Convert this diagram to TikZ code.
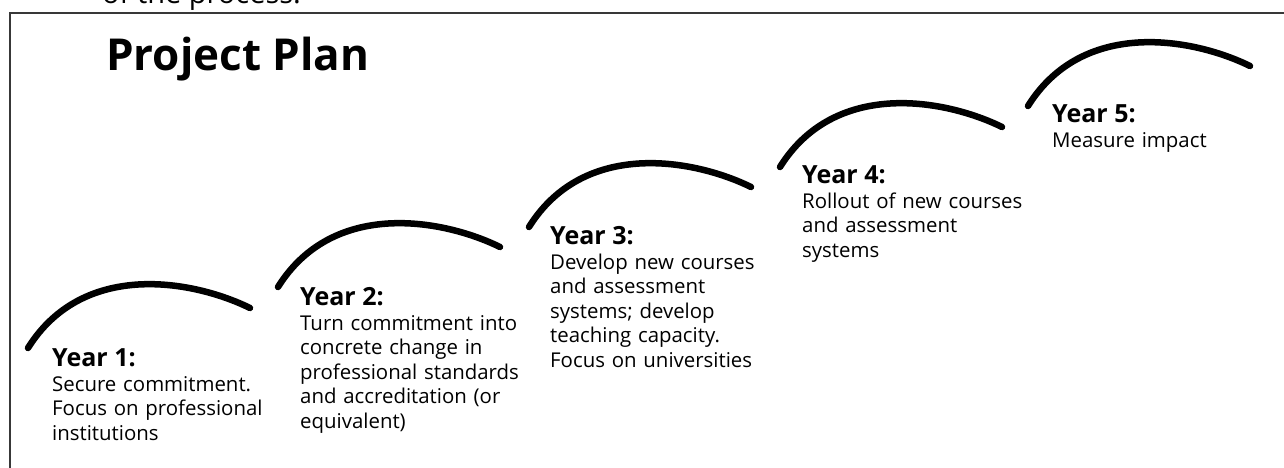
\documentclass[tikz,border=0pt]{standalone}
\usepackage{fontspec}
\setmainfont{Open Sans}
\begin{document}
\begin{tikzpicture}[x=1pt,y=-1pt,
  frameline/.style={draw=black!78,line width=1.8pt},
  arcline/.style={draw=black,line width=6.5pt,line cap=round},
  yeararc/.pic={\draw[arcline] (0,0) .. controls (55,-88) and (165,-68) .. (222,-40);},
  head/.style={anchor=base west,inner sep=0pt,font=\fontsize{25}{30}\selectfont\bfseries},
  body/.style={anchor=base west,inner sep=0pt,text width=260pt,align=left,font=\fontsize{20.4}{24.5}\selectfont},
  title/.style={anchor=base west,inner sep=0pt,font=\fontsize{44}{50}\selectfont\bfseries},
  toptext/.style={anchor=base west,inner sep=0pt,font=\fontsize{29}{34}\selectfont}]
\useasboundingbox (0,0) rectangle (1284,468);
\node[toptext] (top) at (102,4) {of the process.};
\draw[frameline] (10,490) -- (10,13) -- (1300,13);
\node[title] (title) at (106,71) {Project Plan};
\pic at (28,348) {yeararc};
\pic at (278,287) {yeararc};
\pic at (529,227) {yeararc};
\pic at (780,167) {yeararc};
\pic at (1028,106) {yeararc};
\node[head] (h1) at (52,366) {Year 1:};
\node[body] (b1) at (52,391) {Secure commitment.\\Focus on professional\\institutions};
\node[head] (h2) at (300,305) {Year 2:};
\node[body] (b2) at (300,330) {Turn commitment into\\concrete change in\\professional standards\\and accreditation (or\\equivalent)};
\node[head] (h3) at (550,244) {Year 3:};
\node[body] (b3) at (550,269) {Develop new courses\\and assessment\\systems; develop\\teaching capacity.\\Focus on universities};
\node[head] (h4) at (802,183) {Year 4:};
\node[body] (b4) at (802,208) {Rollout of new courses\\and assessment\\systems};
\node[head] (h5) at (1052,122) {Year 5:};
\node[body] (b5) at (1052,147) {Measure impact};
\end{tikzpicture}
\end{document}
